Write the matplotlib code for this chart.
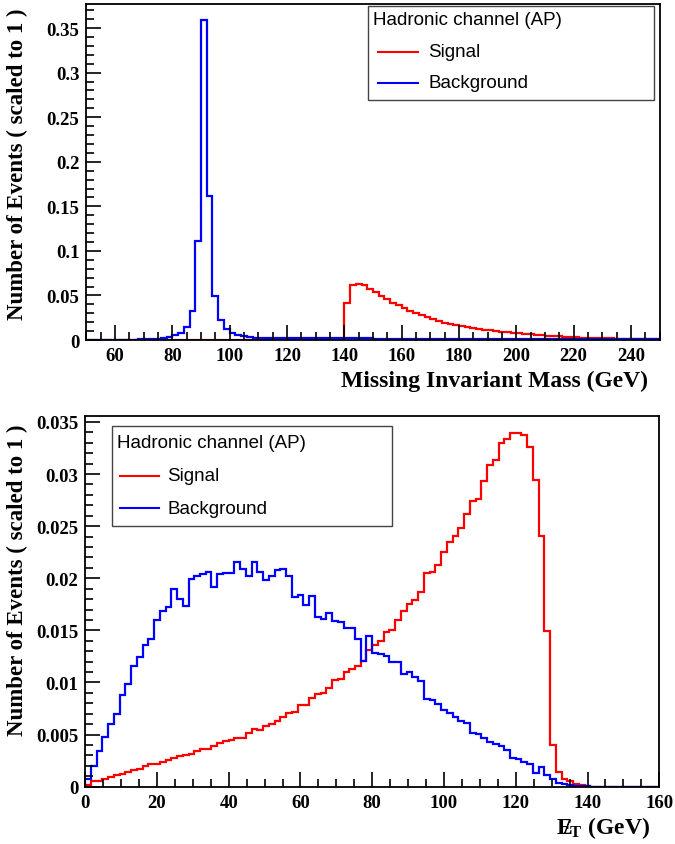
import matplotlib
matplotlib.use("Agg")
import matplotlib.pyplot as plt
from matplotlib.patches import Rectangle
from matplotlib.ticker import MultipleLocator, FuncFormatter
import numpy as np

plt.rcParams["font.family"] = ["Liberation Serif", "DejaVu Serif"]
plt.rcParams["mathtext.fontset"] = "custom"
plt.rcParams["mathtext.rm"] = "Liberation Serif"
plt.rcParams["mathtext.bf"] = "Liberation Serif:bold"
plt.rcParams["mathtext.it"] = "Liberation Serif:italic"

# ---- top panel: missing invariant mass, 100 bins from 50 to 250 GeV
mass_range = (50, 250)
mass_signal = [0.0] * 45 + [
    0.0419, 0.0614, 0.0629, 0.0612, 0.0575, 0.0537, 0.0496, 0.0455, 0.0419, 0.0389,
    0.0363, 0.0330, 0.0302, 0.0276, 0.0253, 0.0234, 0.0213, 0.0196, 0.0181, 0.0168,
    0.0157, 0.0145, 0.0135, 0.0125, 0.0116, 0.0108, 0.0100, 0.0093, 0.0086, 0.0080,
    0.0074, 0.0068, 0.0063, 0.0058, 0.0053, 0.0049, 0.0045, 0.0041, 0.0037, 0.0034,
    0.0031, 0.0028, 0.0026, 0.0024, 0.0022, 0.0020, 0.0018, 0.0017, 0.0015, 0.0014,
    0.0013, 0.0012, 0.0011, 0.0010, 0.0009]
mass_background = [
    0.0002, 0.0002, 0.0003, 0.0003, 0.0003, 0.0004, 0.0004, 0.0005, 0.0006, 0.0007,
    0.0008, 0.0010, 0.0013, 0.0019, 0.0030, 0.0056, 0.0082, 0.0142, 0.0329, 0.1115,
    0.3590, 0.1620, 0.0490, 0.0224, 0.0120, 0.0082, 0.0056, 0.0040, 0.0032, 0.0028,
    0.0025, 0.0024, 0.0024, 0.0023, 0.0023, 0.0022, 0.0022, 0.0021, 0.0021, 0.0021,
    0.0020, 0.0020, 0.0020, 0.0019, 0.0019, 0.0019, 0.0018, 0.0018, 0.0018, 0.0018,
    0.0017, 0.0017, 0.0017, 0.0017, 0.0016, 0.0016, 0.0016, 0.0016, 0.0016, 0.0016,
    0.0016, 0.0016, 0.0015, 0.0015, 0.0015, 0.0015, 0.0015, 0.0015, 0.0015, 0.0015,
    0.0015, 0.0015, 0.0014, 0.0014, 0.0014, 0.0014, 0.0014, 0.0014, 0.0014, 0.0014,
    0.0014, 0.0014, 0.0013, 0.0013, 0.0013, 0.0013, 0.0013, 0.0013, 0.0013, 0.0013,
    0.0013, 0.0013, 0.0012, 0.0012, 0.0012, 0.0012, 0.0012, 0.0012, 0.0012, 0.0012]

# ---- bottom panel: missing transverse energy, 100 bins from 0 to 160 GeV
met_range = (0, 160)
met_signal = [
    0.0002, 0.0005, 0.0005, 0.0007, 0.0009, 0.0011, 0.0012, 0.0014, 0.0016, 0.0017,
    0.0020, 0.0022, 0.0022, 0.0024, 0.0026, 0.0028, 0.0029, 0.0030, 0.0031, 0.0034,
    0.0036, 0.0036, 0.0039, 0.0042, 0.0044, 0.0045, 0.0047, 0.0047, 0.0052, 0.0055,
    0.0054, 0.0058, 0.0060, 0.0063, 0.0067, 0.0071, 0.0072, 0.0078, 0.0078, 0.0085,
    0.0089, 0.0090, 0.0095, 0.0102, 0.0103, 0.0110, 0.0113, 0.0116, 0.0121, 0.0131,
    0.0136, 0.0140, 0.0148, 0.0150, 0.0160, 0.0169, 0.0175, 0.0179, 0.0187, 0.0205,
    0.0206, 0.0213, 0.0225, 0.0235, 0.0241, 0.0248, 0.0262, 0.0274, 0.0276, 0.0293,
    0.0309, 0.0313, 0.0330, 0.0334, 0.0339, 0.0339, 0.0337, 0.0326, 0.0294, 0.0241,
    0.0149, 0.0040, 0.0014, 0.0007, 0.0005, 0.0003, 0.0002, 0.0001, 0.0, 0.0,
    0.0, 0.0, 0.0, 0.0, 0.0, 0.0, 0.0, 0.0, 0.0, 0.0]
met_background = [
    0.0007, 0.0020, 0.0034, 0.0048, 0.0060, 0.0070, 0.0088, 0.0099, 0.0116, 0.0124,
    0.0136, 0.0142, 0.0160, 0.0169, 0.0172, 0.0190, 0.0180, 0.0173, 0.0199, 0.0202,
    0.0204, 0.0206, 0.0192, 0.0204, 0.0205, 0.0205, 0.0216, 0.0209, 0.0202, 0.0216,
    0.0206, 0.0198, 0.0202, 0.0208, 0.0209, 0.0202, 0.0182, 0.0184, 0.0174, 0.0183,
    0.0163, 0.0161, 0.0167, 0.0159, 0.0158, 0.0152, 0.0152, 0.0142, 0.0121, 0.0145,
    0.0128, 0.0127, 0.0125, 0.0120, 0.0120, 0.0108, 0.0110, 0.0105, 0.0101, 0.0084,
    0.0083, 0.0079, 0.0074, 0.0071, 0.0067, 0.0063, 0.0061, 0.0052, 0.0051, 0.0047,
    0.0043, 0.0041, 0.0039, 0.0035, 0.0028, 0.0027, 0.0024, 0.0022, 0.0013, 0.0019,
    0.0011, 0.0007, 0.0004, 0.0003, 0.0002, 0.0001, 0.0001, 0.00005, 0.0, 0.0,
    0.0, 0.0, 0.0, 0.0, 0.0, 0.0, 0.0, 0.0, 0.0, 0.0]

legend_title = "Hadronic channel (AP)"
legend_labels = ["Signal", "Background"]
ylabel = "Number of Events ( scaled to 1 )"

RED = "#ff0000"
BLUE = "#0000ff"


def style_axis(ax, xmajor, xminor, ymajor, yminor):
    ax.xaxis.set_major_locator(MultipleLocator(xmajor))
    ax.xaxis.set_minor_locator(MultipleLocator(xminor))
    ax.yaxis.set_major_locator(MultipleLocator(ymajor))
    ax.yaxis.set_minor_locator(MultipleLocator(yminor))
    ax.yaxis.set_major_formatter(FuncFormatter(lambda v, p: "%g" % round(v, 4)))
    ax.tick_params(which="both", direction="in", top=False, right=False,
                   width=1.2, labelsize=13.5, pad=5)
    ax.tick_params(which="major", length=11)
    ax.tick_params(which="minor", length=5.5)
    for lab in ax.get_xticklabels() + ax.get_yticklabels():
        lab.set_fontweight("bold")
    for sp in ax.spines.values():
        sp.set_linewidth(1.3)


def draw_legend(ax, box, title_xy, rows_y, line_x, text_x):
    x0, y0, x1, y1 = box
    ax.add_patch(Rectangle((x0, y0), x1 - x0, y1 - y0, transform=ax.transAxes,
                           fill=True, facecolor="white", edgecolor="#444444",
                           lw=1.0, zorder=5))
    ax.text(title_xy[0], title_xy[1], legend_title, transform=ax.transAxes,
            family="Liberation Sans", fontsize=13.5, va="center", ha="left",
            zorder=6)
    for yy, lab, col in zip(rows_y, legend_labels, [RED, BLUE]):
        ax.plot(line_x, [yy, yy], color=col, lw=1.5, transform=ax.transAxes,
                zorder=6, clip_on=False)
        ax.text(text_x, yy, lab, transform=ax.transAxes, family="Liberation Sans",
                fontsize=13.5, va="center", ha="left", zorder=6)


fig = plt.figure(figsize=(6.75, 8.45), dpi=100)

# top panel
ax1 = fig.add_axes([0.1279, 0.5964, 0.8494, 0.3977])
edges1 = np.linspace(mass_range[0], mass_range[1], len(mass_signal) + 1)
ax1.stairs(mass_signal, edges1, color=RED, lw=1.6)
ax1.stairs(mass_background, edges1, color=BLUE, lw=1.6)
ax1.set_xlim(*mass_range)
ax1.set_ylim(0, 0.377)
style_axis(ax1, 20, 5, 0.05, 0.01)
ax1.set_xlabel("Missing Invariant Mass (GeV)", fontsize=17, fontweight="bold",
               ha="right", va="center")
ax1.xaxis.set_label_coords(0.98, -0.119)
draw_legend(ax1, (0.491, 0.714, 0.990, 0.994), (0.50, 0.955),
            [0.858, 0.765], [0.509, 0.579], 0.596)

# bottom panel
ax2 = fig.add_axes([0.1262, 0.0678, 0.8505, 0.4391])
edges2 = np.linspace(met_range[0], met_range[1], len(met_signal) + 1)
ax2.stairs(met_signal, edges2, color=RED, lw=1.6)
ax2.stairs(met_background, edges2, color=BLUE, lw=1.6)
ax2.set_xlim(*met_range)
ax2.set_ylim(0, 0.0356)
style_axis(ax2, 20, 5, 0.005, 0.001)
ax2.set_xlabel(r"$\mathbf{E\!\!\!/_{T}}$ (GeV)", fontsize=17, fontweight="bold",
               ha="right", va="center")
ax2.xaxis.set_label_coords(0.984, -0.109)
draw_legend(ax2, (0.046, 0.7035, 0.535, 0.973), (0.055, 0.928),
            [0.838, 0.751], [0.0606, 0.129], 0.143)

# y titles
fig.text(17 / 675, 1 - 9 / 845, ylabel, rotation=90, ha="center", va="top",
         fontsize=16.5, fontweight="bold")
fig.text(17 / 675, 1 - 424 / 845, ylabel, rotation=90, ha="center", va="top",
         fontsize=16.5, fontweight="bold")

fig.savefig("out.png", dpi=100)
